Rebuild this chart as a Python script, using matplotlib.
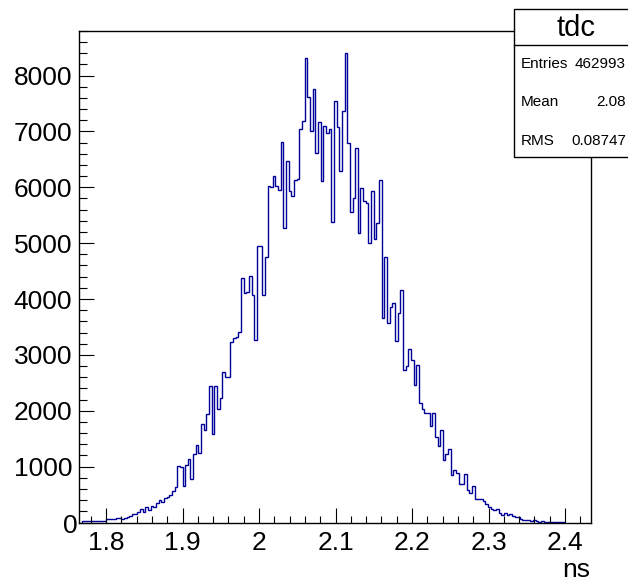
import numpy as np
import matplotlib
matplotlib.use('Agg')
import matplotlib.pyplot as plt
from matplotlib.patches import Rectangle
from matplotlib.lines import Line2D
from matplotlib.ticker import MultipleLocator
from matplotlib.transforms import ScaledTranslation

plt.rcParams['font.family'] = ['Liberation Sans', 'DejaVu Sans']

# bin contents, left to right
counts = [
    20, 25, 20, 25, 30, 20, 25, 30, 25,
    55, 60, 70, 65, 75, 80, 60, 85, 100, 125, 155, 150, 185, 240, 180, 270,
    230, 300, 280, 350, 400, 370, 430, 450, 500, 570, 630, 1020, 1000, 650,
    1022, 1142, 783, 1232, 1381, 1243, 1770, 1650, 1950, 2440, 1590, 2440,
    2040, 2220, 2696, 2607, 2607, 3235, 3295, 3325, 3414, 4371, 4102, 4132,
    4413, 4072, 3265, 4940, 4940, 4072, 4759,
    6015, 6000, 6206, 6015, 5943, 6804, 5268, 6463, 5925, 5835, 6134, 6145,
    7043, 7181, 8305, 7617, 7001, 7761, 6613, 7163, 6104, 7091, 6972, 7043,
    5387, 7540, 7079, 6284, 7360, 8407,
    6793, 5566, 5806, 6703, 5190, 5985, 5746, 5716, 4999, 5925, 5071, 5358,
    6122, 3653, 4759, 3564, 3862, 3922, 3252, 3754, 4161, 2726, 2798, 3098,
    2906, 2457, 2816,
    2141, 2040, 1961, 1961, 1722, 1961, 1531, 1363, 1650, 1124, 1220, 1322,
    843, 945, 884, 681, 681, 861, 574, 526, 646, 425, 425, 425, 382, 323,
    275, 245, 215, 245, 167, 143, 167, 143, 155, 125, 95, 90, 60, 36, 50,
    36, 30, 40, 25, 15, 25, 5, 10, 15, 15, 15, 10, 15, 15,
]
x_lo, x_hi = 1.768, 2.400
edges = np.linspace(x_lo, x_hi, len(counts) + 1)

hist_name = 'tdc'
x_title = 'ns'
entries_txt = '462993'
rms_txt = '0.08747'

centers = 0.5 * (edges[:-1] + edges[1:])
mean_val = np.average(centers, weights=counts)
stat_names = ['Entries', 'Mean', 'RMS']
stat_values = [entries_txt, '%.4g' % mean_val, rms_txt]

W, H = 628, 583
fig = plt.figure(figsize=(W / 100, H / 100), dpi=100)
ax = fig.add_axes([79 / W, 1 - 522.5 / H, (591 - 79) / W, (522.5 - 30.5) / H])

ax.stairs(counts, edges, baseline=0, color='#000099', linewidth=1.0)

ax.set_xlim(1.7646, 2.434)
ax.set_ylim(0, 8806)
ax.xaxis.set_major_locator(MultipleLocator(0.1))
ax.xaxis.set_minor_locator(MultipleLocator(0.02))
ax.yaxis.set_major_locator(MultipleLocator(1000))
ax.yaxis.set_minor_locator(MultipleLocator(200))
ax.xaxis.set_major_formatter(matplotlib.ticker.FuncFormatter(lambda v, p: '%g' % round(v, 2)))

ax.tick_params(which='both', direction='in', top=False, right=False, width=0.8, labelsize=19)
ax.tick_params(which='major', length=10.8)
ax.tick_params(which='minor', length=5.4)
ax.tick_params(axis='x', pad=6)
ax.tick_params(axis='y', pad=5)
for s in ax.spines.values():
    s.set_linewidth(1.0)

# ROOT puts the "0" label tight against the axis
fig.canvas.draw()
for lab in ax.get_yticklabels():
    if lab.get_text() == '0':
        lab.set_transform(lab.get_transform() + ScaledTranslation(6 / 100, -1 / 100, fig.dpi_scale_trans))

fig.text(590 / W, 1 - 570 / H, x_title, ha='right', va='center', fontsize=19)

# stats box
bx0, bx1, by0, by1, bsep = 514, 638, 9, 157, 45
fig.add_artist(Rectangle((bx0 / W, 1 - by1 / H), (bx1 - bx0) / W, (by1 - by0) / H,
                         transform=fig.transFigure, facecolor='white', edgecolor='black',
                         linewidth=1.0, clip_on=False))
fig.add_artist(Line2D([bx0 / W, bx1 / W], [1 - bsep / H, 1 - bsep / H],
                      transform=fig.transFigure, color='black', linewidth=1.0))
fig.text((bx0 + bx1) / 2 / W, 1 - 28 / H, hist_name, ha='center', va='center', fontsize=21)
for i, (n, v) in enumerate(zip(stat_names, stat_values)):
    yy = 1 - (64 + 38.5 * i) / H
    fig.text(521 / W, yy, n, ha='left', va='center', fontsize=11)
    fig.text(626 / W, yy, v, ha='right', va='center', fontsize=11)

fig.savefig('out.png', dpi=100)
